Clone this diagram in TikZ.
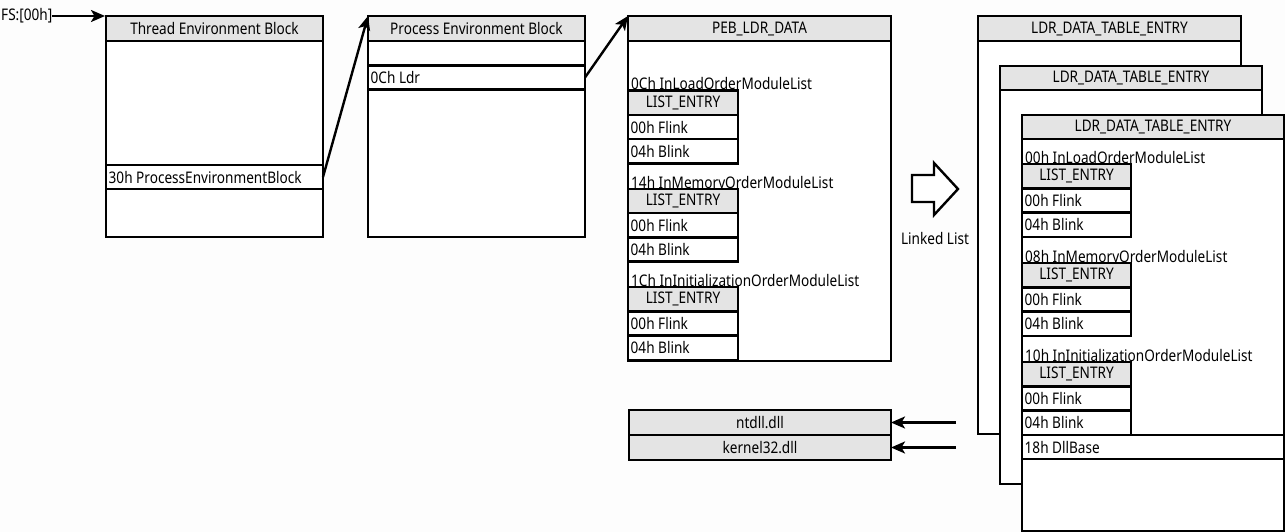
\documentclass[tikz,border=0pt]{standalone}
\usepackage{fontspec}
\setmainfont{Noto Sans}[FakeStretch=0.85]
\usetikzlibrary{arrows.meta}
\definecolor{hdr}{HTML}{E4E4E4}
\definecolor{bgc}{HTML}{FDFDFD}
\newcommand\myrow[6]{\node[bx, minimum width=#4pt, minimum height=#5pt] (#1) at (#2,#3) {};
  \node[txt] (#1t) at ([xshift=2.5pt]#1.west) {#6};}
\newcommand\myhead[6]{\node[hd, minimum width=#4pt, minimum height=#5pt] (#1) at (#2,#3) {#6};}
\newcommand\lentry[4]{\myhead{#1h}{#2}{#3}{#4}{24.3}{LIST\_ENTRY}
  \myrow{#1f}{#2}{#3+24.3}{#4}{24.3}{00h Flink}
  \myrow{#1b}{#2}{#3+48.6}{#4}{24.3}{04h Blink}}
\begin{document}
\begin{tikzpicture}[x=1pt,y=-1pt,
  fnt/.style={font=\fontsize{16}{16}\selectfont},
  bx/.style={draw, line width=2.4pt, fill=white, anchor=north west, inner sep=0pt, outer sep=0pt},
  hd/.style={bx, fill=hdr, fnt},
  txt/.style={anchor=west, inner sep=0pt, fnt},
  btxt/.style={anchor=base west, inner sep=0pt, fnt},
  arr/.style={line width=2.4pt, -{Stealth[length=14pt,width=12pt,inset=3.5pt]}}]
\fill[bgc] (0,0) rectangle (1285,532);
\useasboundingbox (0,0) rectangle (1285,532);

% FS
\node[txt] (fs) at (1,16) {FS:[00h]};

% TEB
\node[bx, minimum width=217pt, minimum height=221pt] (teb) at (106,16) {};
\myhead{tebh}{106}{16}{217}{25}{Thread Environment Block}
\myrow{r30}{106}{165}{217}{24}{30h ProcessEnvironmentBlock}

% PEB
\node[bx, minimum width=217pt, minimum height=221pt] (peb) at (368,16) {};
\myhead{pebh}{368}{16}{217}{25}{Process Environment Block}
\myrow{pe1}{368}{41}{217}{24.5}{}
\myrow{ldr}{368}{65.5}{217}{24}{0Ch Ldr}

% PEB_LDR_DATA
\node[bx, minimum width=263pt, minimum height=345pt] (pld) at (628,16) {};
\myhead{pldh}{628}{16}{263}{25}{PEB\_LDR\_DATA}
\node[btxt] (pt1) at (631,90) {0Ch InLoadOrderModuleList};
\lentry{pa}{628}{90.7}{110}
\node[btxt] (pt2) at (631,188) {14h InMemoryOrderModuleList};
\lentry{pb}{628}{188.7}{110}
\node[btxt] (pt3) at (631,286.5) {1Ch InInitializationOrderModuleList};
\lentry{pc}{628}{287}{110}

% linked list symbol
\draw[line width=2.4pt, fill=white] (912,175) -- (934,175) -- (934,163) -- (958,189) -- (934,215) -- (934,202) -- (912,202) -- cycle;
\node[fnt, inner sep=0pt] (ll) at (935,238) {Linked List};

% LDR entries
\node[bx, minimum width=263pt, minimum height=418pt] (e1) at (978,16) {};
\myhead{e1h}{978}{16}{263}{25}{LDR\_DATA\_TABLE\_ENTRY}
\node[bx, minimum width=262pt, minimum height=418pt] (e2) at (1000,66) {};
\myhead{e2h}{1000}{66}{262}{24}{LDR\_DATA\_TABLE\_ENTRY}
\node[bx, minimum width=262pt, minimum height=416pt] (e3) at (1022,115) {};
\myhead{e3h}{1022}{115}{262}{24}{LDR\_DATA\_TABLE\_ENTRY}
\node[btxt] (et1) at (1025,163.5) {00h InLoadOrderModuleList};
\lentry{ea}{1022}{164}{109}
\node[btxt] (et2) at (1025,262.5) {08h InMemoryOrderModuleList};
\lentry{eb}{1022}{263}{109}
\node[btxt] (et3) at (1025,361.5) {10h InInitializationOrderModuleList};
\lentry{ec}{1022}{362}{109}
\myrow{dll}{1022}{435}{262}{24}{18h DllBase}

% DLL names
\myhead{nt}{629}{410}{262}{25}{ntdll.dll}
\myhead{k32}{629}{435}{262}{25}{kernel32.dll}
\coordinate (c1) at (956,422.5);
\coordinate (c2) at (956,447.5);

% connectors
\draw[arr, shorten >=1pt] (fs.east) -- (teb.north west);
\draw[arr] (r30.east) -- (peb.north west);
\draw[arr] (ldr.east) -- (pld.north west);
\draw[arr] (c1) -- (nt.east);
\draw[arr] (c2) -- (k32.east);
\end{tikzpicture}
\end{document}
